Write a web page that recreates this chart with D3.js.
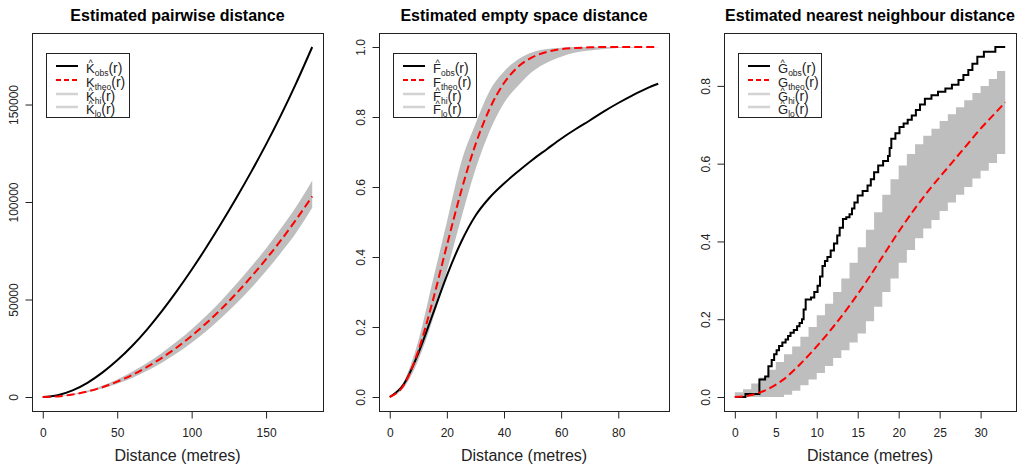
<!DOCTYPE html>
<html>
<head>
<meta charset="utf-8">
<script src="https://cdn.jsdelivr.net/npm/d3@7"></script>
<style>
  body { margin: 0; background: #fff; }
  text { font-family: "Liberation Sans", Arial, sans-serif; }
</style>
</head>
<body>
<div id="chart-area"></div>
<script>
/*
*    three envelope plots (K, F, G functions)
*/

// pairwise distance (K function)
var pairR    = [0, 10, 20, 30, 40, 50, 60, 70, 80, 90, 100, 110, 120, 130, 140, 150, 160, 170, 181];
var pairObs  = [0, 900, 3400, 7300, 12500, 18800, 26150, 34600, 44050, 54300, 65250, 76900, 89200, 102050, 115450, 129550, 144550, 160600, 179500];
var pairTheo = [0, 300, 1300, 2800, 5000, 7900, 11300, 15400, 20100, 25400, 31400, 38000, 45200, 53100, 61600, 70700, 80400, 90800, 102900];
var pairHi   = [0, 400, 1500, 3300, 5800, 9000, 12900, 17400, 22600, 28400, 34800, 41800, 49500, 57900, 66900, 76200, 86500, 97300, 111000];
var pairLo   = [0, 250, 1050, 2400, 4300, 6800, 9800, 13400, 17600, 22400, 27800, 33900, 40600, 47900, 55900, 64600, 74000, 84000, 97000];
var pairXTicks = [0, 50, 100, 150];
var pairYTicks = [0, 50000, 100000, 150000];

// empty space distance (F function)
var emptyR    = [0, 5, 10, 15, 20, 25, 30, 35, 40, 45, 50, 55, 60, 65, 70, 75, 80, 85, 90, 94];
var emptyObs  = [0, 0.038, 0.125, 0.235, 0.347, 0.443, 0.518, 0.57, 0.61, 0.645, 0.678, 0.708, 0.738, 0.765, 0.79, 0.816, 0.84, 0.862, 0.882, 0.895];
var emptyTheo = [0, 0.035, 0.132, 0.273, 0.433, 0.588, 0.721, 0.824, 0.897, 0.944, 0.971, 0.986, 0.994, 0.997, 0.999, 1, 1, 1, 1, 1];
var emptyHi   = [0, 0.045, 0.16, 0.33, 0.5, 0.67, 0.78, 0.875, 0.93, 0.965, 0.985, 0.994, 0.998, 1, 1, 1, 1, 1, 1, 1];
var emptyLo   = [0, 0.027, 0.105, 0.22, 0.36, 0.51, 0.65, 0.76, 0.84, 0.89, 0.93, 0.955, 0.972, 0.984, 0.99, 0.994, 0.997, 0.998, 0.999, 0.999];
var emptyXTicks = [0, 20, 40, 60, 80];
var emptyYTicks = [0, 0.2, 0.4, 0.6, 0.8, 1.0];

// nearest neighbour distance (G function)
var nnObsR = [0, 1.3, 3.0, 3.7, 4.1, 4.5, 4.8, 5.1, 5.4, 5.8, 6.2, 6.5, 6.8, 7.2, 7.6, 7.9, 8.2, 8.4, 8.65, 9.3, 9.7, 10.1, 10.4, 10.7, 11.0, 11.3, 11.7, 12.1, 12.5, 12.8, 13.2, 13.6, 14.0, 14.3, 14.6, 15.0, 15.6, 16.2, 16.6, 17.0, 17.5, 18.1, 18.7, 18.9, 19.1, 19.6, 20.1, 20.6, 21.1, 21.6, 22.1, 22.6, 23.2, 24.0, 24.8, 25.7, 26.5, 27.3, 27.9, 28.5, 29.0, 29.6, 30.4, 31.8, 33];
var nnObs  = [0, 0.008, 0.045, 0.053, 0.079, 0.095, 0.11, 0.12, 0.131, 0.14, 0.148, 0.157, 0.165, 0.172, 0.182, 0.19, 0.2, 0.225, 0.251, 0.256, 0.27, 0.286, 0.31, 0.337, 0.35, 0.36, 0.377, 0.395, 0.415, 0.435, 0.458, 0.462, 0.47, 0.485, 0.5, 0.518, 0.53, 0.544, 0.56, 0.578, 0.595, 0.607, 0.62, 0.64, 0.664, 0.678, 0.694, 0.703, 0.713, 0.724, 0.738, 0.752, 0.767, 0.776, 0.785, 0.793, 0.803, 0.815, 0.828, 0.841, 0.857, 0.875, 0.888, 0.9, 0.9];
var nnTheoR = [0, 2, 4, 6, 8, 10, 12, 14, 16, 18, 20, 22, 24, 26, 28, 30, 32, 33];
var nnTheo  = [0, 0.005, 0.02, 0.046, 0.085, 0.13, 0.18, 0.235, 0.295, 0.36, 0.425, 0.485, 0.54, 0.59, 0.64, 0.69, 0.735, 0.758];
var nnR  = [0, 1, 2, 3, 4, 5, 6, 7, 8, 9, 10, 11, 12, 13, 14, 15, 16, 17, 18, 19, 20, 21, 22, 23, 24, 25, 26, 27, 28, 29, 30, 31, 32, 33];
var nnHi = [0.012, 0.02, 0.035, 0.05, 0.07, 0.09, 0.11, 0.13, 0.155, 0.18, 0.21, 0.24, 0.27, 0.305, 0.345, 0.385, 0.43, 0.475, 0.52, 0.56, 0.595, 0.625, 0.65, 0.672, 0.69, 0.71, 0.727, 0.745, 0.763, 0.782, 0.8, 0.818, 0.838, 0.86];
var nnLo = [0, 0, 0, 0, 0, 0, 0.006, 0.016, 0.03, 0.045, 0.062, 0.08, 0.1, 0.12, 0.14, 0.163, 0.195, 0.232, 0.27, 0.305, 0.345, 0.378, 0.408, 0.433, 0.455, 0.478, 0.5, 0.52, 0.54, 0.562, 0.582, 0.602, 0.625, 0.655];
var nnXTicks = [0, 5, 10, 15, 20, 25, 30];
var nnYTicks = [0, 0.2, 0.4, 0.6, 0.8];

var titles = ["Estimated pairwise distance", "Estimated empty space distance", "Estimated nearest neighbour distance"];
var letters = ["K", "F", "G"];
var legendKeys = ["obs", "theo", "hi", "lo"];
var xLabel = "Distance (metres)";

var width = 1028;
var height = 470;
var plotTop = 33, plotBottom = 411;

function zip(xs, ys) {
    return xs.map((d, i) => ({r: d, v: ys[i]}));
}
function zipBand(xs, lo, hi) {
    return xs.map((d, i) => ({r: d, lo: lo[i], hi: hi[i]}));
}

var panels = [
    {left: 32, right: 323, obs: zip(pairR, pairObs), theo: zip(pairR, pairTheo), band: zipBand(pairR, pairLo, pairHi),
     xTicks: pairXTicks, yTicks: pairYTicks, yFmt: d3.format("d"), step: false},
    {left: 379, right: 669, obs: zip(emptyR, emptyObs), theo: zip(emptyR, emptyTheo), band: zipBand(emptyR, emptyLo, emptyHi),
     xTicks: emptyXTicks, yTicks: emptyYTicks, yFmt: d3.format(".1f"), step: false},
    {left: 724, right: 1016, obs: zip(nnObsR, nnObs), theo: zip(nnTheoR, nnTheo), band: zipBand(nnR, nnLo, nnHi),
     xTicks: nnXTicks, yTicks: nnYTicks, yFmt: d3.format(".1f"), step: true}
];

var svg = d3.select("#chart-area")
    .append("svg")
        .attr("width", width)
        .attr("height", height)
        .style("display", "block");

svg.append("rect").attr("width", width).attr("height", height).attr("fill", "#fff");

panels.forEach((p, i) => {
    var g = svg.append("g");

    var xmax = d3.max([d3.max(p.obs, d => d.r), d3.max(p.band, d => d.r)]);
    var ymax = d3.max([d3.max(p.obs, d => d.v), d3.max(p.theo, d => d.v), d3.max(p.band, d => d.hi)]);

    var x = d3.scaleLinear()
        .domain([-0.04 * xmax, 1.04 * xmax])
        .range([p.left, p.right]);

    var y = d3.scaleLinear()
        .domain([-0.04 * ymax, 1.04 * ymax])
        .range([plotBottom, plotTop]);

    var curve = p.step ? d3.curveStepAfter : d3.curveMonotoneX;

    // envelope
    var area = d3.area()
        .x(d => x(d.r))
        .y0(d => y(d.lo))
        .y1(d => y(d.hi))
        .curve(curve);
    g.append("path")
        .datum(p.band)
        .attr("d", area)
        .attr("fill", "#bebebe");

    // observed
    var line = d3.line()
        .x(d => x(d.r))
        .y(d => y(d.v));
    g.append("path")
        .datum(p.obs)
        .attr("d", line.curve(curve))
        .attr("fill", "none")
        .attr("stroke", "#000")
        .attr("stroke-width", 2);

    // theoretical
    g.append("path")
        .datum(p.theo)
        .attr("d", line.curve(d3.curveMonotoneX))
        .attr("fill", "none")
        .attr("stroke", "#ff0000")
        .attr("stroke-width", 2)
        .attr("stroke-dasharray", "8,4");

    // box
    g.append("rect")
        .attr("x", p.left + 0.5)
        .attr("y", plotTop + 0.5)
        .attr("width", p.right - p.left)
        .attr("height", plotBottom - plotTop)
        .attr("fill", "none")
        .attr("stroke", "#222")
        .attr("stroke-width", 1);

    var xAxis = g.append("g")
        .attr("transform", "translate(0," + (plotBottom + 0.5) + ")")
        .call(d3.axisBottom(x).tickValues(p.xTicks).tickSize(7).tickPadding(10).tickFormat(d3.format("d")));
    xAxis.select(".domain").remove();
    xAxis.attr("font-size", 12).attr("font-family", "Liberation Sans, Arial, sans-serif").style("color", "#222");

    var yAxis = g.append("g")
        .attr("transform", "translate(" + (p.left + 0.5) + ",0)")
        .call(d3.axisLeft(y).tickValues(p.yTicks).tickSize(7).tickFormat(p.yFmt));
    yAxis.select(".domain").remove();
    yAxis.attr("font-size", 12).attr("font-family", "Liberation Sans, Arial, sans-serif").style("color", "#222");
    yAxis.selectAll("text")
        .attr("x", 0)
        .attr("y", -15)
        .attr("dy", 0)
        .attr("text-anchor", "middle")
        .attr("transform", "rotate(-90)");

    var cx = (p.left + p.right) / 2;
    g.append("text")
        .attr("x", cx)
        .attr("y", 21)
        .attr("text-anchor", "middle")
        .attr("font-size", "16px")
        .attr("font-weight", "bold")
        .style("fill", "#000")
        .text(titles[i]);

    g.append("text")
        .attr("x", cx)
        .attr("y", 461)
        .attr("text-anchor", "middle")
        .attr("font-size", "16px")
        .style("fill", "#222")
        .text(xLabel);

    // legend
    var lx = p.left + 14;
    var leg = g.append("g");
    leg.append("rect")
        .attr("x", lx + 0.5)
        .attr("y", 53.5)
        .attr("width", 83)
        .attr("height", 64)
        .attr("fill", "#fff")
        .attr("stroke", "#222");

    var rows = [66, 80, 94, 107];
    var styles = [
        {stroke: "#000", dash: null, w: 2, hat: true},
        {stroke: "#ff0000", dash: "5,3", w: 2, hat: false},
        {stroke: "#d3d3d3", dash: null, w: 2.5, hat: true},
        {stroke: "#d3d3d3", dash: null, w: 2.5, hat: true}
    ];
    legendKeys.forEach((k, j) => {
        var s = styles[j];
        var ry = rows[j];
        leg.append("line")
            .attr("x1", lx + 10).attr("x2", lx + 32)
            .attr("y1", ry).attr("y2", ry)
            .attr("stroke", s.stroke)
            .attr("stroke-width", s.w)
            .attr("stroke-dasharray", s.dash);
        var t = leg.append("text")
            .attr("x", lx + 40)
            .attr("y", ry + 7)
            .attr("font-size", "13px")
            .style("fill", "#222");
        t.append("tspan").text(letters[i]);
        t.append("tspan").attr("font-size", "8.5px").attr("dy", 2.5).text(k);
        t.append("tspan").attr("dy", -2.5).attr("font-size", "14px").text("(r)");
        if (s.hat) {
            leg.append("text")
                .attr("x", lx + 44.5)
                .attr("y", ry - 0.5)
                .attr("text-anchor", "middle")
                .attr("font-size", "9px")
                .style("fill", "#222")
                .text("^");
        }
    });
});
</script>
</body>
</html>
